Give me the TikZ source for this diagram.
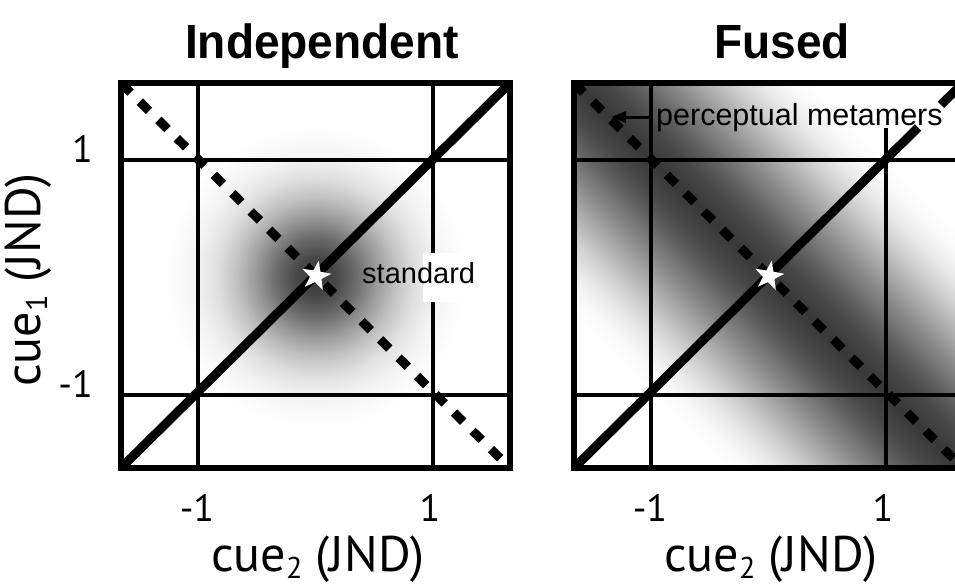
\documentclass[tikz,border=0pt]{standalone}
\usepackage{fontspec}
\setmainfont{Liberation Sans}
\newfontfamily\axisfont{PT Sans}
\usetikzlibrary{shapes.geometric,arrows.meta,calc}

\pgfdeclareradialshading{gaussL}{\pgfpointorigin}{color(0bp)=(black!78); color(3.333bp)=(black!72); color(6.667bp)=(black!58); color(10bp)=(black!40); color(13.333bp)=(black!24); color(16.667bp)=(black!12); color(20bp)=(black!5); color(23.333bp)=(black!1.5); color(25bp)=(white); color(50bp)=(white)}

\pgfdeclareverticalshading{bandR}{100bp}{color(0bp)=(white); color(35bp)=(white); color(36.5bp)=(black!2); color(38bp)=(black!7); color(40bp)=(black!18); color(42bp)=(black!32); color(44bp)=(black!47); color(46bp)=(black!61); color(48bp)=(black!72); color(50bp)=(black!78); color(52bp)=(black!72); color(54bp)=(black!61); color(56bp)=(black!47); color(58bp)=(black!32); color(60bp)=(black!18); color(62bp)=(black!7); color(63.5bp)=(black!2); color(65bp)=(white); color(100bp)=(white)}

\newcommand{\lowsub}[1]{\raisebox{-7pt}{\fontsize{30}{30}\selectfont #1}}

\begin{document}
\begin{tikzpicture}[x=1pt,y=-1pt,
  borderline/.style={line width=6.5pt},
  gridline/.style={line width=4.5pt},
  diagline/.style={line width=9pt},
  metadash/.style={line width=9pt, dash pattern=on 13pt off 13pt, dash phase=25.5pt},
  ticklab/.style={font=\axisfont\fontsize{38}{40}\selectfont, inner sep=0pt},
  axlab/.style={font=\axisfont\fontsize{50}{52}\selectfont, inner sep=0pt},
  titlelab/.style={font=\bfseries\fontsize{48}{52}\selectfont, inner sep=0pt, xscale=0.96},
  notelab/.style={font=\fontsize{29}{32}\selectfont, inner sep=0pt},
  whitestar/.style={star, star points=5, star point ratio=2.5, fill=white, minimum size=31pt, inner sep=0pt, shape border rotate=-10}]

\useasboundingbox (0,0) rectangle (955,586);
\fill[white] (0,0) rectangle (955,586);

% ---------- left panel: Independent ----------
\coordinate (LTL) at (121,83);
\coordinate (LTR) at (510,83);
\coordinate (LBL) at (121,468);
\coordinate (LBR) at (510,468);
\shade[shading=gaussL] (316,277) circle [radius=150];
\draw[gridline] (198,83) -- (198,468);
\draw[gridline] (433,83) -- (433,468);
\draw[gridline] (121,160) -- (510,160);
\draw[gridline] (121,395) -- (510,395);
\draw[borderline] (LTL) rectangle (LBR);
\fill[white] (423,253) rectangle (478,302);
\draw[diagline] (LBL) -- (LTR);
\draw[metadash] (LTL) -- (LBR);
\node[whitestar] (stdL) at (316,276) {};
\node[notelab, anchor=base west] (std) at (362,283) {standard};

% ---------- right panel: Fused ----------
\coordinate (RTL) at (574,83);
\coordinate (RTR) at (963,83);
\coordinate (RBL) at (574,468);
\coordinate (RBR) at (963,468);
\begin{scope}
  \clip (RTL) rectangle (RBR);
  \begin{scope}[transform canvas={shift={(769,277)}, rotate=-45}]
    \shade[shading=bandR] (-400,-280) rectangle (400,280);
  \end{scope}
\end{scope}
\draw[gridline] (651,83) -- (651,468);
\draw[gridline] (886,128) -- (886,468);
\draw[gridline] (574,160) -- (963,160);
\draw[gridline] (574,395) -- (963,395);
\draw[borderline] (RTL) rectangle (RBR);
\draw[diagline] (RBL) -- ($(RBL)!0.8844!(RTR)$);
\draw[diagline] ($(RBL)!0.9434!(RTR)$) -- (RTR);
\draw[metadash] (RTL) -- (RBR);
\node[whitestar] (stdR) at (769,276) {};
\node[notelab, font=\fontsize{30.5}{33}\selectfont, anchor=base west] (meta) at (656,125) {perceptual metamers};
\coordinate (arrS) at (651,117);
\coordinate (arrE) at (611,117);
\draw[line width=3pt, -{Triangle[length=15pt,width=11pt]}] (arrS) -- (arrE);

% ---------- titles ----------
\node[titlelab, anchor=base] (t1) at (322,59) {Independent};
\node[titlelab, anchor=base] (t2) at (782,59) {Fused};

% ---------- axes labels ----------
\node[ticklab, anchor=base] (xl1) at (197,521) {-1};
\node[ticklab, anchor=base] (xl2) at (430,521) {1};
\node[ticklab, anchor=base] (xr1) at (650,521) {-1};
\node[ticklab, anchor=base] (xr2) at (883,521) {1};
\node[axlab, anchor=base] (xlabL) at (318,571) {cue\lowsub{2} (JND)};
\node[axlab, anchor=base] (xlabR) at (771,571) {cue\lowsub{2} (JND)};
\node[ticklab, anchor=mid east] (y1) at (93,160) {1};
\node[ticklab, anchor=mid east] (y2) at (93,395) {-1};
\node[axlab, rotate=90, anchor=base] (ylab) at (40,280) {cue\lowsub{1} (JND)};
\end{tikzpicture}
\end{document}
